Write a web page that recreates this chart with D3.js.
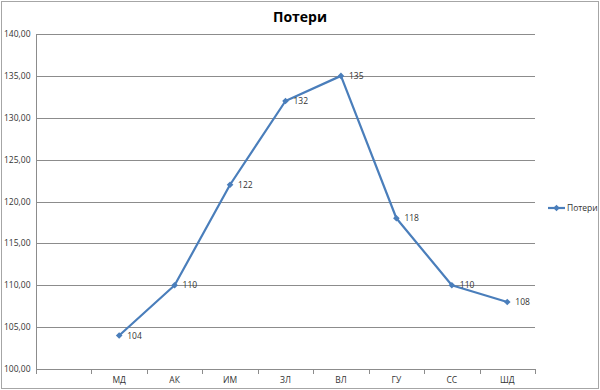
<!DOCTYPE html>
<html>
<head>
<meta charset="utf-8">
<script src="https://cdn.jsdelivr.net/npm/d3@7"></script>
<style>
	body { margin: 0; background: #fff; }
	svg { display: block; font-family: "Open Sans", "DejaVu Sans", sans-serif; }
</style>
</head>
<body>
<svg id="chart" width="600" height="390"></svg>
<script>
var categories = ['', 'МД', 'АК', 'ИМ', 'ЗЛ', 'ВЛ', 'ГУ', 'СС', 'ШД'];
var losses = [null, 104, 110, 122, 132, 135, 118, 110, 108];
var yTicks = [100, 105, 110, 115, 120, 125, 130, 135, 140];
var seriesName = 'Потери';
var title = 'Потери';

(function () {
	var svg = d3.select('#chart');
	var plotLeft = 36, plotRight = 535, plotTop = 34, plotBottom = 369;
	var color = '#4a7ebb';

	// outer border
	svg.append('rect')
		.attr('x', 1.5).attr('y', 1.5)
		.attr('width', 597).attr('height', 387)
		.attr('fill', '#fff')
		.attr('stroke', '#a6a6a6');

	var x = d3.scaleBand().domain(categories.map(function(d, i) { return i; }))
		.range([plotLeft, plotRight]);
	var y = d3.scaleLinear().domain([100, 140]).range([plotBottom, plotTop]);

	// grid
	svg.append('g')
		.selectAll('line')
		.data(yTicks)
		.enter()
		.append('line')
		.attr('x1', plotLeft).attr('x2', plotRight)
		.attr('y1', function(d) { return Math.round(y(d)) + 0.5; })
		.attr('y2', function(d) { return Math.round(y(d)) + 0.5; })
		.attr('stroke', '#8c8c8c');

	// y labels
	svg.append('g')
		.selectAll('text')
		.data(yTicks)
		.enter()
		.append('text')
		.attr('x', 4)
		.attr('y', function(d) { return y(d) + 3; })
		.attr('font-size', 8.5)
		.attr('fill', '#333')
		.text(function(d) { return d3.format('.2f')(d).replace('.', ','); });

	// y axis line
	svg.append('line')
		.attr('x1', plotLeft + 0.5).attr('x2', plotLeft + 0.5)
		.attr('y1', plotTop).attr('y2', plotBottom)
		.attr('stroke', '#8c8c8c');

	// x axis ticks at category boundaries
	var bounds = categories.map(function(d, i) { return x(i); }).concat([plotRight]);
	svg.append('g')
		.selectAll('line')
		.data(bounds)
		.enter()
		.append('line')
		.attr('x1', function(d) { return Math.round(d) + 0.5; })
		.attr('x2', function(d) { return Math.round(d) + 0.5; })
		.attr('y1', plotBottom).attr('y2', plotBottom + 5)
		.attr('stroke', '#8c8c8c');

	svg.append('g')
		.selectAll('text')
		.data(categories)
		.enter()
		.append('text')
		.attr('x', function(d, i) { return x(i) + x.bandwidth() / 2; })
		.attr('y', 383)
		.attr('text-anchor', 'middle')
		.attr('font-size', 8.5)
		.attr('fill', '#333')
		.text(function(d) { return d; });

	// line
	var pts = losses.map(function(v, i) { return { i: i, v: v }; })
		.filter(function(d) { return d.v !== null; });
	var line = d3.line()
		.x(function(d) { return x(d.i) + x.bandwidth() / 2; })
		.y(function(d) { return y(d.v); });

	svg.append('path')
		.datum(pts)
		.attr('d', line)
		.attr('fill', 'none')
		.attr('stroke', color)
		.attr('stroke-width', 2.2)
		.attr('stroke-linejoin', 'round');

	// square turned 45deg, like the Excel diamond marker
	var diamond = d3.symbol().type(d3.symbolSquare).size(22);
	svg.append('g')
		.selectAll('path')
		.data(pts)
		.enter()
		.append('path')
		.attr('d', diamond)
		.attr('transform', function(d) {
			return 'translate(' + (x(d.i) + x.bandwidth() / 2) + ',' + y(d.v) + ') rotate(45)';
		})
		.attr('fill', color);

	svg.append('g')
		.selectAll('text')
		.data(pts)
		.enter()
		.append('text')
		.attr('x', function(d) { return x(d.i) + x.bandwidth() / 2 + 8; })
		.attr('y', function(d) { return y(d.v) + 3; })
		.attr('font-size', 8.5)
		.attr('fill', '#333')
		.text(function(d) { return d.v; });

	// title
	svg.append('text')
		.attr('x', 300).attr('y', 22)
		.attr('text-anchor', 'middle')
		.attr('font-size', 14)
		.attr('font-weight', 'bold')
		.attr('fill', '#000')
		.text(title);

	// legend
	var lg = svg.append('g').attr('transform', 'translate(548,208)');
	lg.append('line')
		.attr('x1', 0).attr('x2', 17)
		.attr('stroke', color).attr('stroke-width', 2.2);
	lg.append('path')
		.attr('d', diamond)
		.attr('transform', 'translate(8.5,0) rotate(45)')
		.attr('fill', color);
	lg.append('text')
		.attr('x', 19).attr('y', 3)
		.attr('font-size', 8.5)
		.attr('fill', '#333')
		.text(seriesName);
}());
</script>
</body>
</html>
